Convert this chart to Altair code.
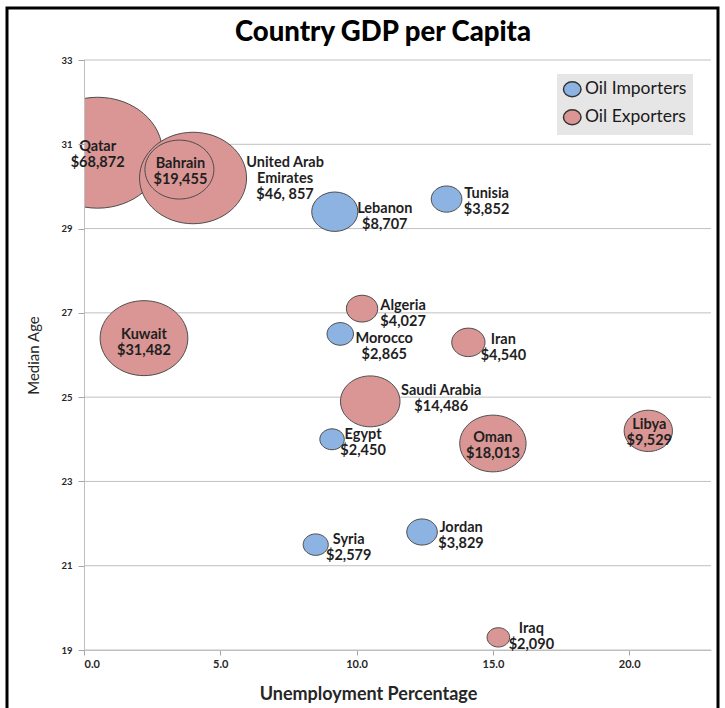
import altair as alt
import pandas as pd

countries = ["Qatar", "United Arab Emirates", "Kuwait", "Bahrain", "Oman", "Saudi Arabia",
             "Libya", "Lebanon", "Iran", "Algeria", "Tunisia", "Jordan", "Morocco",
             "Syria", "Egypt", "Iraq"]
groups = ["Oil Exporters", "Oil Exporters", "Oil Exporters", "Oil Exporters", "Oil Exporters",
          "Oil Exporters", "Oil Exporters", "Oil Importers", "Oil Exporters", "Oil Exporters",
          "Oil Importers", "Oil Importers", "Oil Importers", "Oil Importers", "Oil Importers",
          "Oil Exporters"]
unemployment = [0.5, 4.0, 2.2, 3.5, 15.0, 10.5, 20.7, 9.2, 14.1, 10.2, 13.3, 12.4, 9.4, 8.5, 9.1, 15.2]
median_age = [30.8, 30.2, 26.4, 30.4, 23.9, 24.9, 24.2, 29.4, 26.3, 27.1, 29.7, 21.8, 26.5, 21.5, 24.0, 19.3]
gdp = [68872, 46857, 31482, 19455, 18013, 14486, 9529, 8707, 4540, 4027, 3852, 3829, 2865, 2579, 2450, 2090]
label_names = ["Qatar", "United Arab\nEmirates", "Kuwait", "Bahrain", "Oman", "Saudi Arabia",
               "Libya", "Lebanon", "Iran", "Algeria", "Tunisia", "Jordan", "Morocco",
               "Syria", "Egypt", "Iraq"]
gdp_labels = ["$68,872", "$46, 857", "$31,482", "$19,455", "$18,013", "$14,486", "$9,529",
              "$8,707", "$4,540", "$4,027", "$3,852", "$3,829", "$2,865", "$2,579", "$2,450", "$2,090"]
y_ticks = [19, 21, 23, 25, 27, 29, 31, 33]
x_ticks = [0, 5, 10, 15, 20]
chart_title = "Country GDP per Capita"

df = pd.DataFrame({
    "country": countries,
    "group": groups,
    "unemployment": unemployment,
    "age": median_age,
    "gdp": gdp,
    "label": [n + "\n" + g for n, g in zip(label_names, gdp_labels)],
})
grid_df = pd.DataFrame({"age": y_ticks})

# label offsets (pixels) relative to bubble centre - styling only
label_offsets = {
    "Qatar": (0, -6), "United Arab Emirates": (92, -15), "Kuwait": (0, -3), "Bahrain": (1, -6),
    "Oman": (0, -6), "Saudi Arabia": (71, -10.5), "Libya": (1, -6), "Lebanon": (50, -2.5),
    "Iran": (35, -2.5), "Algeria": (41, -2.5), "Tunisia": (40, -5.5), "Jordan": (39, -4.5),
    "Morocco": (44, 5), "Syria": (33, -5), "Egypt": (31, -4), "Iraq": (33, -8),
}

ELLIPSE = ("M-1.17,0C-1.17,-0.552 -0.646,-1 0,-1C0.646,-1 1.17,-0.552 1.17,0"
           "C1.17,0.552 0.646,1 0,1C-0.646,1 -1.17,0.552 -1.17,0Z")

W, H = 627, 590
FONT = "Lato"

x_scale = alt.Scale(domain=[0, 23], nice=False, zero=True)
y_scale = alt.Scale(domain=[19, 33], nice=False, zero=False)
x_axis = alt.Axis(values=x_ticks, format=".1f", grid=False,
                  title="Unemployment Percentage", tickSize=5,
                  labelFontSize=11, labelFontWeight="bold", labelPadding=3,
                  titleFontSize=18, titleFontWeight="bold",
                  titleX=284, titleY=44, titleBaseline="middle")
y_axis = alt.Axis(values=y_ticks, format="d", grid=False, zindex=1, domain=False,
                  title="Median Age", tickSize=6,
                  labelFontSize=9.5, labelFontWeight="bold", labelPadding=6,
                  titleFontSize=15, titleFontWeight="normal",
                  titleX=-51, titleY=295, titleBaseline="middle")

gridlines = alt.Chart(grid_df).mark_rule(color="#c0c0c0", strokeWidth=1).encode(
    y=alt.Y("age:Q", scale=y_scale, axis=y_axis),
    x=alt.value(0), x2=alt.value(W),
)

bubbles = alt.Chart(df).mark_point(
    shape=ELLIPSE, filled=True, opacity=1, stroke="#4d4d4d", strokeWidth=1, clip=True
).encode(
    x=alt.X("unemployment:Q", scale=x_scale, axis=x_axis),
    y=alt.Y("age:Q", scale=y_scale, axis=y_axis),
    size=alt.Size("gdp:Q", scale=alt.Scale(domain=[0, 68872], range=[0, 12300], zero=True),
                  legend=None),
    color=alt.Color("group:N",
                    scale=alt.Scale(domain=["Oil Importers", "Oil Exporters"],
                                    range=["#8db3e2", "#d99694"]),
                    legend=alt.Legend(title=None, orient="none", legendX=473, legendY=14,
                                      fillColor="#e6e6e6", padding=6.5,
                                      symbolType=ELLIPSE, symbolSize=225,
                                      symbolStrokeColor="#333333", symbolStrokeWidth=1.5,
                                      labelFont=FONT, labelFontSize=17.5, labelColor="#1a1a1a",
                                      labelExpr="datum.label + '\u00a0\u00a0\u00a0\u00a0\u00a0\u00a0\u00a0'",
                                      rowPadding=6, labelOffset=4)),
    order=alt.Order("gdp:Q", sort="descending"),
)

one = pd.DataFrame({"t": [chart_title]})

# white mask left of the y axis (bubble clipped at the plot edge)
mask = alt.Chart(one).mark_rect(fill="white", fillOpacity=1, strokeWidth=0).encode(
    x=alt.value(-70), x2=alt.value(0), y=alt.value(25), y2=alt.value(165)
)

# y axis line, drawn under the bubble labels
y_domain = alt.Chart(one).mark_rule(color="#bfbfbf", strokeWidth=1).encode(
    x=alt.value(0.5), y=alt.value(0), y2=alt.value(H)
)

label_layers = []
for c in countries:
    dx, dy = label_offsets[c]
    label_layers.append(
        alt.Chart(df).transform_filter(alt.datum.country == c).mark_text(
            font=FONT, fontSize=14.5, fontWeight="bold", color="#1f1f1f",
            lineBreak="\n", lineHeight=16, align="center", baseline="middle",
            dx=dx, dy=dy
        ).encode(x="unemployment:Q", y="age:Q", text="label:N")
    )

title_mark = alt.Chart(one).mark_text(
    font=FONT, fontSize=27.5, fontWeight=900, color="black", align="center", baseline="middle"
).encode(x=alt.value(299), y=alt.value(-27), text="t:N")

frame = alt.Chart(one).mark_rect(
    fillOpacity=0, stroke="black", strokeWidth=3
).encode(x=alt.value(-77), x2=alt.value(634), y=alt.value(-52), y2=alt.value(680))

chart = alt.layer(gridlines, bubbles, mask, y_domain, *label_layers, title_mark, frame).properties(
    width=W, height=H,
    autosize=alt.AutoSizeParams(type="none"),
    padding={"left": 84, "top": 60, "right": 14, "bottom": 58},
).configure_view(stroke="transparent").configure_axis(
    labelFont=FONT, titleFont=FONT, labelColor="#262626", titleColor="#262626",
    domainColor="#bfbfbf", tickColor="#a6a6a6"
)

chart.save("out.html", embed_options={"renderer": "svg", "actions": False})
